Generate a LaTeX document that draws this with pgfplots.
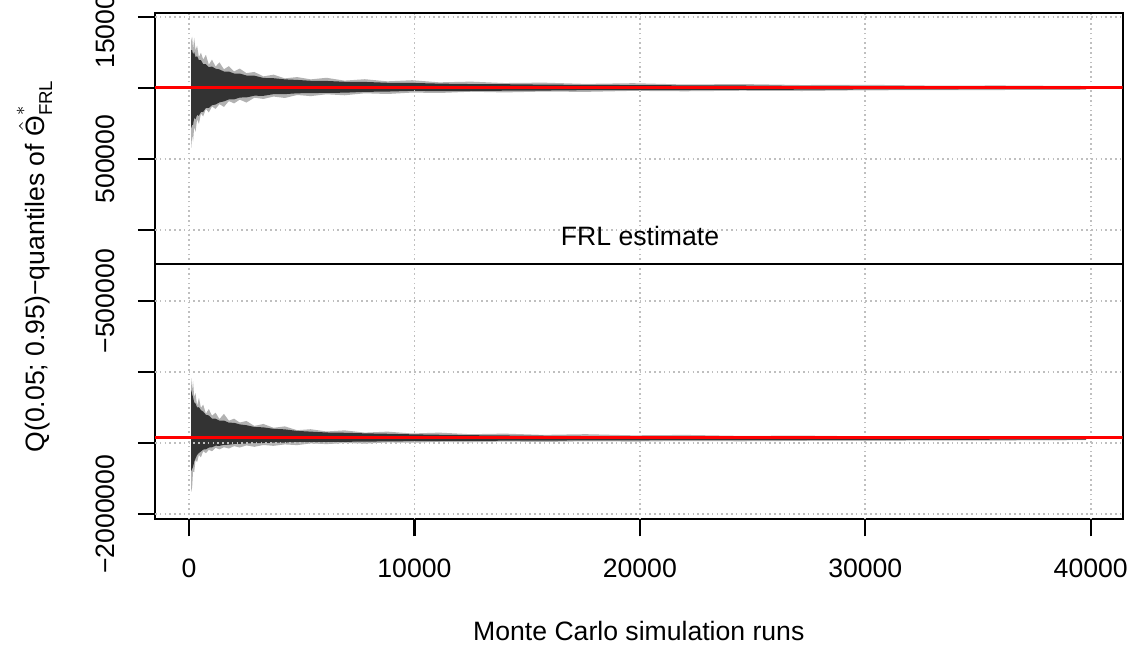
\documentclass[border=0pt]{standalone}
\usepackage{fontspec}
\setmainfont{Liberation Sans}
\usepackage{amsmath}
\usepackage{pgfplots}
\usepackage{pgfplotstable}
\pgfplotsset{compat=1.18}
\usepgfplotslibrary{fillbetween}
\newcommand{\fs}{\fontsize{13.3pt}{16pt}\selectfont}

% upper band (95% quantile paths): outer top, inner top, inner bottom, outer bottom
\pgfplotstableread{
x ot it ib ob
100 1336000 1266000 720000 580000
140 1362000 1266000 741000 671000
180 1273000 1238000 741000 622000
230 1354000 1252000 790000 727000
290 1266000 1217000 780000 692000
360 1298000 1224000 811000 780000
440 1217000 1196000 804000 748000
530 1249000 1196000 832000 821000
630 1200000 1168000 832000 800000
750 1234000 1168000 860000 853000
880 1164000 1147000 860000 828000
1020 1200000 1151000 879000 870000
1180 1151000 1136000 884000 853000
1350 1181000 1131000 899000 887000
1550 1132000 1116000 906000 867000
1770 1154000 1116000 920000 908000
2000 1117000 1102000 920000 892000
2250 1137000 1102000 933000 918000
2550 1105000 1088000 934000 898000
2900 1113000 1087000 946000 932000
3300 1082000 1071000 945000 923000
3750 1094000 1069000 957000 940000
4250 1068000 1061000 957000 930000
4800 1077000 1057000 963000 951000
5400 1061000 1051000 964000 943000
6100 1072000 1050000 966000 956000
6900 1052000 1044000 967000 949000
7800 1062000 1043000 973000 963000
8800 1047000 1037000 975000 958000
9900 1055000 1036000 980000 968000
11100 1040000 1031000 978000 965000
12500 1045000 1028000 979000 974000
14000 1035000 1027000 981000 969000
15700 1038000 1024000 982000 975000
17600 1029000 1022000 985000 973000
19700 1034000 1021000 986000 980000
22000 1025000 1019000 986000 977000
24500 1028000 1018000 987000 981000
27200 1021000 1015000 988000 979000
30000 1023000 1014000 990000 984000
33000 1017000 1012000 991000 985000
36000 1018000 1011000 992000 986000
39800 1014000 1008000 993000 988000
}\upperband

% lower band (5% quantile paths)
\pgfplotstableread{
x ot it ib ob
100 -1043000 -1127000 -1694000 -1841000
140 -1125000 -1155000 -1680000 -1809000
180 -1063000 -1176000 -1666000 -1697000
230 -1174000 -1212000 -1631000 -1705000
290 -1147000 -1220000 -1607000 -1618000
360 -1235000 -1248000 -1582000 -1632000
440 -1180000 -1246000 -1568000 -1583000
530 -1251000 -1267000 -1558000 -1599000
630 -1228000 -1277000 -1544000 -1555000
750 -1291000 -1300000 -1543000 -1570000
880 -1259000 -1304000 -1530000 -1546000
1020 -1306000 -1326000 -1528000 -1556000
1180 -1285000 -1327000 -1517000 -1532000
1350 -1330000 -1341000 -1518000 -1543000
1550 -1293000 -1340000 -1511000 -1528000
1770 -1341000 -1355000 -1510000 -1537000
2000 -1327000 -1356000 -1505000 -1520000
2250 -1354000 -1367000 -1504000 -1530000
2550 -1343000 -1373000 -1502000 -1515000
2900 -1378000 -1385000 -1499000 -1525000
3300 -1364000 -1388000 -1498000 -1512000
3750 -1391000 -1398000 -1496000 -1518000
4250 -1381000 -1402000 -1495000 -1508000
4800 -1408000 -1413000 -1492000 -1513000
5400 -1401000 -1418000 -1491000 -1501000
6100 -1417000 -1424000 -1491000 -1506000
6900 -1409000 -1426000 -1490000 -1498000
7800 -1425000 -1430000 -1488000 -1502000
8800 -1418000 -1433000 -1487000 -1494000
9900 -1431000 -1437000 -1485000 -1496000
11100 -1425000 -1440000 -1484000 -1490000
12500 -1436000 -1443000 -1483000 -1493000
14000 -1432000 -1445000 -1482000 -1488000
15700 -1441000 -1447000 -1481000 -1491000
17600 -1436000 -1449000 -1480000 -1486000
19700 -1444000 -1450000 -1479000 -1488000
22000 -1441000 -1452000 -1478000 -1484000
24500 -1448000 -1453000 -1478000 -1486000
27200 -1446000 -1455000 -1477000 -1483000
30000 -1451000 -1456000 -1476000 -1484000
33000 -1450000 -1457000 -1476000 -1481000
36000 -1454000 -1459000 -1475000 -1481000
39800 -1455000 -1460000 -1474000 -1478000
}\lowerband

\tikzset{rgrid/.style={draw=black!25, line width=0.85pt, dash pattern=on 0.8pt off 1.6pt}}

\begin{document}
\begin{tikzpicture}
\begin{axis}[
  name=ax, at={(0pt,0pt)}, anchor=south west,
  scale only axis, width=483.85pt, height=253.15pt,
  xmin=-1508, xmax=41420, ymin=-2035000, ymax=1528000,
  axis line style={line width=1.1pt, black},
  tick align=outside,
  major tick length=8.5pt,
  tick style={black, line width=1.1pt},
  xtick pos=bottom, ytick pos=left,
  xtick={0,10000,20000,30000,40000},
  xticklabels={0,10000,20000,30000,40000},
  ytick={-2000000,-1500000,-1000000,-500000,0,500000,1000000,1500000},
  yticklabels={−2000000,{},{},−500000,{},500000,{},1500000},
  scaled ticks=false,
  xticklabel style={font=\fs, anchor=base, inner sep=0pt},
  yticklabel style={font=\fs, rotate=90, anchor=base, inner sep=0pt},
  xticklabel shift=20.5pt,
  yticklabel shift=11.5pt,
  clip=true,
]
% upper band
\addplot[draw=none, name path=uot] table[x=x, y=ot]{\upperband};
\addplot[draw=none, name path=uob] table[x=x, y=ob]{\upperband};
\addplot[draw=none, name path=uit] table[x=x, y=it]{\upperband};
\addplot[draw=none, name path=uib] table[x=x, y=ib]{\upperband};
\addplot[fill=black!30, draw=none] fill between[of=uot and uob];
\addplot[fill=black!80, draw=none] fill between[of=uit and uib];
% lower band
\addplot[draw=none, name path=lot] table[x=x, y=ot]{\lowerband};
\addplot[draw=none, name path=lob] table[x=x, y=ob]{\lowerband};
\addplot[draw=none, name path=lit] table[x=x, y=it]{\lowerband};
\addplot[draw=none, name path=lib] table[x=x, y=ib]{\lowerband};
\addplot[fill=black!30, draw=none] fill between[of=lot and lob];
\addplot[fill=black!80, draw=none] fill between[of=lit and lib];
% grid drawn over the paths
\draw[rgrid] (axis cs:0,-2035000) -- (axis cs:0,1528000);
\draw[rgrid] (axis cs:10000,-2035000) -- (axis cs:10000,1528000);
\draw[rgrid] (axis cs:20000,-2035000) -- (axis cs:20000,1528000);
\draw[rgrid] (axis cs:30000,-2035000) -- (axis cs:30000,1528000);
\draw[rgrid] (axis cs:40000,-2035000) -- (axis cs:40000,1528000);
\draw[rgrid] (axis cs:-1508,-2000000) -- (axis cs:41420,-2000000);
\draw[rgrid] (axis cs:-1508,-1500000) -- (axis cs:41420,-1500000);
\draw[rgrid] (axis cs:-1508,-1000000) -- (axis cs:41420,-1000000);
\draw[rgrid] (axis cs:-1508,-500000) -- (axis cs:41420,-500000);
\draw[rgrid] (axis cs:-1508,0) -- (axis cs:41420,0);
\draw[rgrid] (axis cs:-1508,500000) -- (axis cs:41420,500000);
\draw[rgrid] (axis cs:-1508,1000000) -- (axis cs:41420,1000000);
\draw[rgrid] (axis cs:-1508,1500000) -- (axis cs:41420,1500000);
% reference lines
\addplot[red, line width=1.6pt] coordinates {(-1508,1002000) (41420,1002000)};
\addplot[red, line width=1.6pt] coordinates {(-1508,-1461000) (41420,-1461000)};
\addplot[black, line width=1.1pt] coordinates {(-1508,-241000) (41420,-241000)};
\end{axis}
\node[rotate=90, anchor=base, font=\fs] at (-55pt,126.6pt) {Q(0.05; 0.95)−quantiles of $\hat{\text{Θ}}^{*}_{\text{FRL}}$};
\node[anchor=base, font=\fs] at (241.9pt,-60.7pt) {Monte Carlo simulation runs};
\node[anchor=base, font=\fs] at (242.5pt,137pt) {FRL estimate};
\pgfresetboundingbox
\path[use as bounding box] (-77.5pt,-64.35pt) rectangle (489pt,259.65pt);
\end{tikzpicture}
\end{document}
